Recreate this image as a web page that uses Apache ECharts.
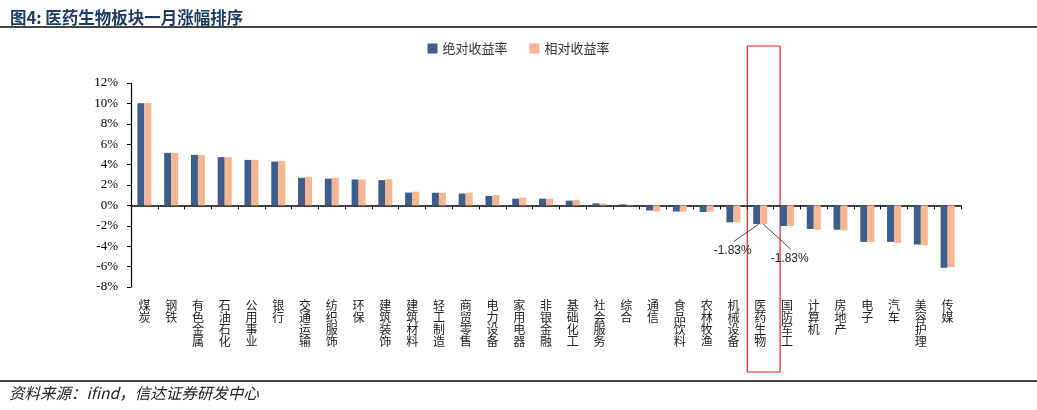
<!DOCTYPE html>
<html><head><meta charset="utf-8">
<script src="https://cdn.jsdelivr.net/npm/echarts@6/dist/echarts.min.js"></script>
<style>html,body{margin:0;padding:0;background:#fff}#c{width:1037px;height:410px}</style>
</head><body><div id="c"></div>
<script>
const categories = ['煤炭','钢铁','有色金属','石油石化','公用事业','银行','交通运输','纺织服饰','环保','建筑装饰','建筑材料','轻工制造','商贸零售','电力设备','家用电器','非银金融','基础化工','社会服务','综合','通信','食品饮料','农林牧渔','机械设备','医药生物','国防军工','计算机','房地产','电子','汽车','美容护理','传媒'];
const absReturn = [10.02,5.15,4.96,4.73,4.46,4.30,2.71,2.62,2.54,2.48,1.26,1.24,1.16,0.92,0.66,0.66,0.47,0.20,0.10,-0.50,-0.60,-0.65,-1.66,-1.83,-2.02,-2.31,-2.38,-3.58,-3.58,-3.84,-6.12];
const relReturn = [10.04,5.15,4.96,4.73,4.46,4.36,2.80,2.70,2.54,2.56,1.34,1.24,1.24,1.01,0.75,0.66,0.55,0.18,0.08,-0.60,-0.60,-0.62,-1.66,-1.83,-2.02,-2.38,-2.44,-3.58,-3.68,-3.91,-6.06];
const seriesNames = ['绝对收益率','相对收益率'];
const highlight = '医药生物';
const yTicks = {min:-8, max:12, interval:2};

const chart = echarts.init(document.getElementById('c'));
const hi = categories.indexOf(highlight);
function mk(vals){
  return vals.map((v,i)=>{
    if(i!==hi) return v;
    return {value:v,
      label:{show:true, position:'bottom', formatter:(v).toFixed(2)+'%', color:'#222', fontSize:12, fontFamily:'Liberation Sans'}
    };
  });
}
function layoutFor(dx, dy){
  return (p)=> p.dataIndex===hi ? {dx:dx, dy:dy} : {};
}
chart.setOption({
  animation:false,
  title:{text:'图4: 医药生物板块一月涨幅排序', left:5, top:4,
    textStyle:{fontFamily:'Noto Sans CJK SC', fontWeight:'bold', fontSize:16.5, color:'#1F3A60'}},
  legend:{top:37, left:'center', itemWidth:10, itemHeight:10, itemGap:22,
    icon:'rect', textStyle:{fontFamily:'Noto Sans CJK SC', fontSize:13, color:'#333'},
    data:seriesNames},
  grid:{left:131, right:76, top:83, bottom:123, containLabel:false, outerBoundsMode:'none'},
  xAxis:{type:'category', data:categories,
    axisLine:{onZero:true, lineStyle:{color:'#000', width:1.5}},
    axisTick:{show:true, inside:false, length:4, alignWithLabel:false, lineStyle:{color:'#000'}},
    axisLabel:{interval:0, margin:12, color:'#222', fontSize:12, lineHeight:12,
      fontFamily:'Noto Sans CJK SC',
      formatter:(v)=>v.split('').join('\n'),
      verticalAlign:'top'
    }
  },
  yAxis:{type:'value', min:yTicks.min, max:yTicks.max, interval:yTicks.interval,
    axisLine:{show:true, lineStyle:{color:'#000', width:1.2}},
    axisTick:{show:true, length:4, lineStyle:{color:'#000'}},
    splitLine:{show:false},
    axisLabel:{formatter:(v)=>v+'%', color:'#000', fontSize:13, fontFamily:'Liberation Serif', margin:13}
  },
  series:[
    {name:seriesNames[0], type:'bar', data:mk(absReturn), barWidth:7, barGap:'0%',
      itemStyle:{color:'#3B5E8C'}, labelLayout:layoutFor(-24,16)},
    {name:seriesNames[1], type:'bar', data:mk(relReturn), barWidth:7, barGap:'0%',
      itemStyle:{color:'#F8B591'}, labelLayout:layoutFor(26,24)}
  ]
});
function place(){
  const cx = chart.convertToPixel({xAxisIndex:0}, highlight);
  const bw = chart.getModel().getComponent('xAxis',0).axis.getBandWidth();
  const l0 = chart.getModel().getSeriesByIndex(0).getData().getItemLayout(hi);
  const l1 = chart.getModel().getSeriesByIndex(1).getData().getItemLayout(hi);
  const b0 = Math.max(l0.y, l0.y + l0.height);
  const b1 = Math.max(l1.y, l1.y + l1.height);
  const s0x = l0.x + l0.width - 1.5, s1x = l1.x + 3;
  chart.setOption({graphic:[
    {type:'line', shape:{x1:0,y1:27,x2:1037,y2:27}, style:{stroke:'#444', lineWidth:2}},
    {type:'line', shape:{x1:0,y1:381,x2:1037,y2:381}, style:{stroke:'#444', lineWidth:2}},
    {type:'text', left:9, top:385, style:{text:'资料来源：ifind，信达证券研发中心', font:'italic 15.5px "Noto Sans CJK SC"', fill:'#222'}},
    {type:'rect', shape:{x:cx-bw/2+0.5, y:46, width:bw+6, height:326}, style:{fill:'none', stroke:'#E8231F', lineWidth:1.2}},
    {type:'line', shape:{x1:s0x, y1:b0, x2:s0x-25, y2:b0+17.5}, style:{stroke:'#444', lineWidth:1}},
    {type:'line', shape:{x1:s1x, y1:b1, x2:s1x+27.5, y2:b1+25}, style:{stroke:'#444', lineWidth:1}}
  ]});
}
place();
</script></body></html>
